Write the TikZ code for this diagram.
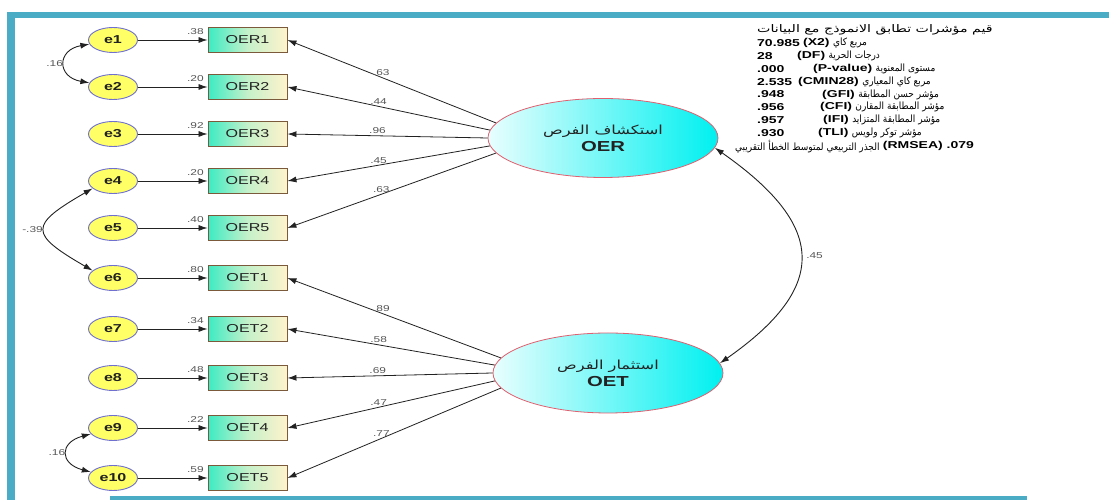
\documentclass[tikz,border=0pt]{standalone}
\usepackage{fontspec}
\setmainfont{Liberation Sans}[FakeStretch=1.4]
\newfontfamily\arabicfont[Script=Arabic,FakeStretch=0.9]{DejaVu Sans}
\newfontfamily\arabicwide[Script=Arabic,FakeStretch=1.35]{DejaVu Sans}
\newfontfamily\arabiclatent[Script=Arabic,FakeStretch=1.3]{DejaVu Sans}
\TeXXeTstate=1
\usetikzlibrary{arrows.meta,shapes.geometric}
\newcommand\arab[1]{{\arabicfont\beginR #1\endR}}
\newcommand\arabhead[1]{{\arabicwide\beginR #1\endR}}
\newcommand\arablat[1]{{\arabiclatent\beginR #1\endR}}

\definecolor{frameblue}{HTML}{4BACC6}
\definecolor{errfill}{HTML}{FFFF66}
\definecolor{errline}{HTML}{7070D0}
\definecolor{boxgreen}{HTML}{3CEBC3}
\definecolor{boxcream}{HTML}{FFF3CC}
\definecolor{boxline}{HTML}{7A5A3A}
\definecolor{latline}{HTML}{E06070}
\definecolor{latcyan}{HTML}{00F0F0}
\definecolor{latpale}{HTML}{E8FEFE}
\definecolor{lblgrey}{HTML}{555555}
\definecolor{inkdark}{HTML}{222222}

\tikzset{
  errnode/.style={ellipse, draw=errline, line width=0.9pt, fill=errfill,
    minimum width=49pt, minimum height=25pt, inner sep=0pt,
    font=\bfseries\fontsize{11.5}{11.5}\selectfont, text=inkdark},
  obsbox/.style={rectangle, draw=boxline, line width=0.9pt,
    left color=boxgreen, right color=boxcream, middle color=boxcream!70!boxgreen,
    minimum width=79pt, minimum height=25pt, inner sep=0pt,
    font=\fontsize{11.5}{11.5}\selectfont, text=inkdark},
  latent/.style={ellipse, draw=latline, line width=0.8pt,
    left color=latpale, right color=latcyan,
    minimum width=230pt, minimum height=79pt, inner sep=0pt,
    align=center, text=inkdark},
  link/.style={draw=inkdark, line width=0.8pt, -{Latex[length=9pt,width=6pt]}},
  covlink/.style={draw=inkdark, line width=0.9pt,
    {Latex[length=9pt,width=6pt]}-{Latex[length=9pt,width=6pt]}},
  coef/.style={font=\fontsize{8.5}{8.5}\selectfont, text=lblgrey, inner sep=1.5pt},
  statnum/.style={font=\bfseries\fontsize{10}{10}\selectfont, inner sep=0pt, anchor=west},
  stattxt/.style={font=\bfseries\fontsize{10}{10}\selectfont, inner sep=0pt, anchor=west},
  statar/.style={font=\fontsize{10}{10}\selectfont, inner sep=0pt, anchor=west},
}

\begin{document}
\begin{tikzpicture}[x=1pt,y=1pt]
\useasboundingbox (0,0) rectangle (1109,500);
\fill[white] (0,0) rectangle (1109,500);

% page frame
\fill[frameblue] (7,482) rectangle (1109,488);
\fill[frameblue] (7,0) rectangle (15,488);
\fill[frameblue] (110,0) rectangle (1027,3.5);

% latent factors
\node[latent] (OER) at (603,362)
  {\arablat{\fontsize{12.5}{14}\selectfont استكشاف الفرص}\\[3pt]{\bfseries\fontsize{14.5}{15}\selectfont OER}};
\node[latent, minimum height=80pt] (OET) at (608,127)
  {\arablat{\fontsize{12.5}{14}\selectfont استثمار الفرص}\\[3pt]{\bfseries\fontsize{14.5}{15}\selectfont OET}};

% error terms, indicators and their squared multiple correlations
\foreach \i/\y/\lab/\sq in {1/460/OER1/.38, 2/413/OER2/.20, 3/366/OER3/.92,
    4/319/OER4/.20, 5/272/OER5/.40, 6/222/OET1/.80, 7/171/OET2/.34,
    8/122/OET3/.48, 9/72/OET4/.22, 10/22/OET5/.59} {
  \node[errnode] (e\i) at (113,\y) {e\i};
  \node[obsbox] (b\i) at (247.5,\y) {\lab};
  \draw[link] (e\i) -- (b\i)
    node[coef, at end, anchor=south east, xshift=-2pt, yshift=4pt] {\sq};
}

% factor loadings
\foreach \i/\a/\c in {1/172/.63, 2/176/.44, 3/180/.96, 4/184/.45, 5/188/.63}
  \draw[link] (OER.\a) -- (b\i.east) node[coef, pos=0.55, above] {\c};
\foreach \i/\a/\c in {6/172/.89, 7/176/.58, 8/180/.69, 9/184/.47, 10/188/.77}
  \draw[link] (OET.\a) -- (b\i.east) node[coef, pos=0.56, above] {\c};

% covariances
\draw[covlink] (e1.190) to[out=190,in=170,looseness=2.2]
  node[coef, left] {.16} (e2.170);
\draw[covlink] (e4.200) to[out=210,in=150,looseness=2.3]
  node[coef, left] {-.39} (e6.160);
\draw[covlink] (e9.195) to[out=195,in=165,looseness=2.2]
  node[coef, left] {.16} (e10.165);
\draw[covlink] (OER.-5) to[out=-35,in=35,looseness=1.6]
  node[coef, right=4pt] {.45} (OET.5);

% model fit indices
\node[stattxt, font=\fontsize{10.5}{10.5}\selectfont] (st0) at (757,470)
  {\arabhead{قيم مؤشرات تطابق الانموذج مع البيانات}};
\node[statnum] (st1n) at (757,457.1) {70.985};
\node[stattxt] (st1t) at (803,457.1) {(X2)};
\node[statar] (st1a) at ([xshift=3pt]st1t.east) {\arab{مربع كاي}};
\node[statnum] (st2n) at (757,444.2) {28};
\node[stattxt] (st2t) at (797,444.2) {(DF)};
\node[statar] (st2a) at ([xshift=3pt]st2t.east) {\arab{درجات الحرية}};
\node[statnum] (st3n) at (757,431.3) {.000};
\node[stattxt] (st3t) at (813,431.3) {(P-value)};
\node[statar] (st3a) at ([xshift=3pt]st3t.east) {\arab{مستوى المعنوية}};
\node[statnum] (st4n) at (757,418.4) {2.535};
\node[stattxt] (st4t) at (798,418.4) {(CMIN28)};
\node[statar] (st4a) at ([xshift=3pt]st4t.east) {\arab{مربع كاي المعياري}};
\node[statnum] (st5n) at (757,405.5) {.948};
\node[stattxt] (st5t) at (822,405.5) {(GFI)};
\node[statar] (st5a) at ([xshift=3pt]st5t.east) {\arab{مؤشر حسن المطابقة}};
\node[statnum] (st6n) at (757,392.6) {.956};
\node[stattxt] (st6t) at (820,392.6) {(CFI)};
\node[statar] (st6a) at ([xshift=3pt]st6t.east) {\arab{مؤشر المطابقة المقارن}};
\node[statnum] (st7n) at (757,379.7) {.957};
\node[stattxt] (st7t) at (823,379.7) {(IFI)};
\node[statar] (st7a) at ([xshift=3pt]st7t.east) {\arab{مؤشر المطابقة المتزايد}};
\node[statnum] (st8n) at (757,366.8) {.930};
\node[stattxt] (st8t) at (818,366.8) {(TLI)};
\node[statar] (st8a) at ([xshift=3pt]st8t.east) {\arab{مؤشر توكر ولويس}};
\node[statar] (st9a) at (735,353.9) {\arab{الجذر التربيعي لمتوسط الخطأ التقريبي}};
\node[stattxt] (st9t) at ([xshift=3pt]st9a.east) {(RMSEA) .079};
\end{tikzpicture}
\end{document}
